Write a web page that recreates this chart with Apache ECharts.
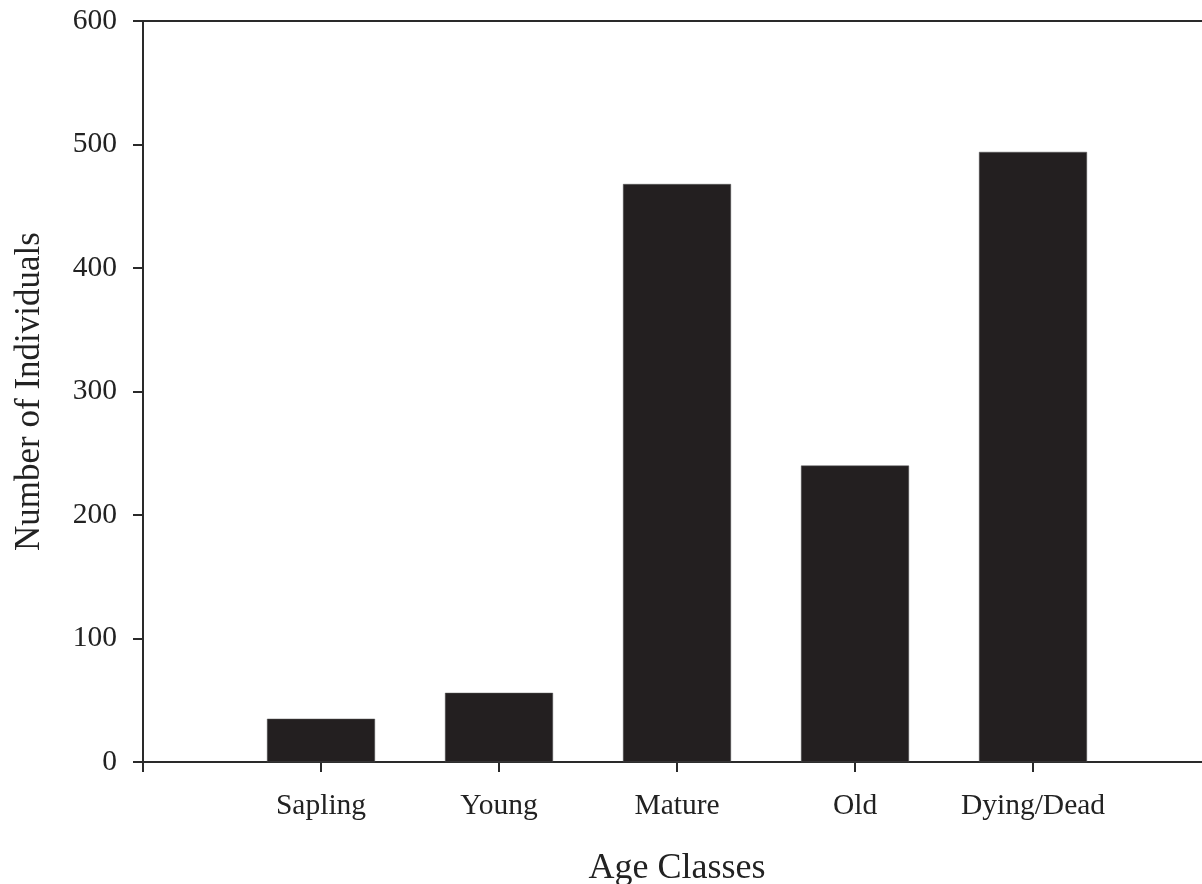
<!DOCTYPE html>
<html>
<head>
<meta charset="utf-8">
<script src="https://cdn.jsdelivr.net/npm/echarts@6/dist/echarts.min.js"></script>
<style>
html,body{margin:0;padding:0;background:#fff;}
#chart{width:1202px;height:884px;}
</style>
</head>
<body>
<div id="chart"></div>
<script>
const categories = ['Sapling', 'Young', 'Mature', 'Old', 'Dying/Dead'];
const individuals = [35, 56, 468, 240, 494];
const yTicks = [0, 100, 200, 300, 400, 500, 600];
const xTitle = 'Age Classes';
const yTitle = 'Number of Individuals';

const axisCats = [''].concat(categories, ['']);
const axisVals = ['-'].concat(individuals, ['-']);

const ink = '#231f20';
const font = 'Liberation Serif';

const chart = echarts.init(document.getElementById('chart'), null, {renderer: 'canvas'});
chart.setOption({
  animation: false,
  backgroundColor: '#fff',
  grid: {
    left: 143, right: -9, top: 21, bottom: 122,
    outerBoundsMode: 'none',
    containLabel: false,
    show: true, borderColor: '#2a2a2a', borderWidth: 2, backgroundColor: 'transparent'
  },
  xAxis: {
    type: 'category',
    data: axisCats,
    boundaryGap: false,
    axisLine: {lineStyle: {color: '#2a2a2a', width: 2}},
    axisTick: {show: true, inside: false, length: 10, interval: 0, lineStyle: {color: '#2a2a2a', width: 2}},
    axisLabel: {interval: 0, margin: 29, color: '#222', fontFamily: font, fontSize: 29.5},
    splitLine: {show: false},
    name: xTitle,
    nameLocation: 'middle',
    nameGap: 89,
    nameTextStyle: {color: '#222', fontFamily: font, fontSize: 36}
  },
  yAxis: {
    type: 'value',
    min: yTicks[0], max: yTicks[yTicks.length - 1], interval: yTicks[1] - yTicks[0],
    axisLine: {show: true, lineStyle: {color: '#2a2a2a', width: 2}},
    axisTick: {show: true, inside: false, length: 10, lineStyle: {color: '#2a2a2a', width: 2}},
    axisLabel: {margin: 26, color: '#222', fontFamily: font, fontSize: 29.5},
    splitLine: {show: false},
    name: yTitle,
    nameLocation: 'middle',
    nameRotate: 90,
    nameGap: 96,
    nameTextStyle: {color: '#222', fontFamily: font, fontSize: 35}
  },
  series: [{
    type: 'bar',
    data: axisVals,
    barWidth: 108,
    itemStyle: {color: ink, borderColor: '#555', borderWidth: 0.5}
  }]
});
</script>
</body>
</html>
